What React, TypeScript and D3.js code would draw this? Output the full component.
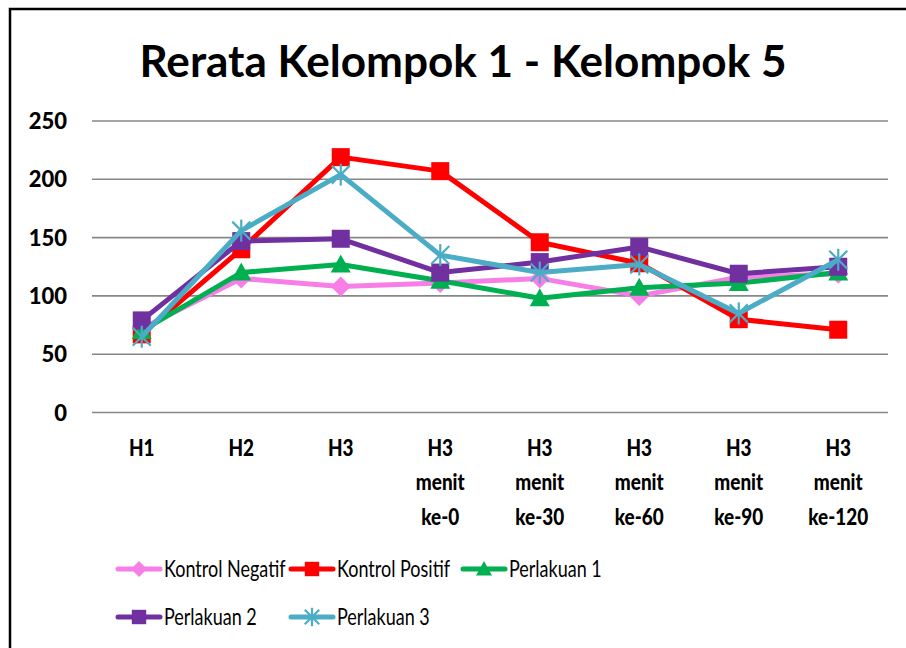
import React from 'react';
import * as d3 from 'd3';

const W = 906;
const H = 648;

const categories = ['H1', 'H2', 'H3', 'H3 menit ke-0', 'H3 menit ke-30', 'H3 menit ke-60', 'H3 menit ke-90', 'H3 menit ke-120'];
const yTicks = [0, 50, 100, 150, 200, 250];

const kontrolNegatif = [72, 115, 108, 111, 115, 100, 116, 119];
const kontrolPositif = [67, 140, 219, 207, 146, 128, 80, 71];
const perlakuan1 = [70, 120, 127, 113, 98, 107, 111, 120];
const perlakuan2 = [79, 147, 149, 120, 129, 142, 119, 125];
const perlakuan3 = [65, 156, 204, 135, 120, 127, 85, 131];

const series = [
  { name: 'Kontrol Negatif', values: kontrolNegatif, color: '#F67EE6', marker: 'diamond' },
  { name: 'Kontrol Positif', values: kontrolPositif, color: '#FF0000', marker: 'square' },
  { name: 'Perlakuan 1', values: perlakuan1, color: '#00B050', marker: 'triangle' },
  { name: 'Perlakuan 2', values: perlakuan2, color: '#7030A0', marker: 'square' },
  { name: 'Perlakuan 3', values: perlakuan3, color: '#4BACC6', marker: 'star' },
];

const FONT = 'Lato, "Open Sans", sans-serif';

const Marker = ({ type, x, y, color, s = 1 }: { type: string; x: number; y: number; color: string; s?: number }) => {
  if (type === 'square') {
    return <rect x={x - 9 * s} y={y - 9 * s} width={18 * s} height={18 * s} fill={color} />;
  }
  if (type === 'diamond') {
    const r = 10 * s;
    return <path d={`M${x},${y - r}L${x + r},${y}L${x},${y + r}L${x - r},${y}Z`} fill={color} />;
  }
  if (type === 'triangle') {
    const r = 10 * s;
    return <path d={`M${x},${y - r}L${x + r},${y + r * 0.8}L${x - r},${y + r * 0.8}Z`} fill={color} />;
  }
  // star (asterisk)
  const r = 9 * s;
  return (
    <g stroke={color} strokeWidth={2.2}>
      <line x1={x - r} y1={y - r} x2={x + r} y2={y + r} />
      <line x1={x - r} y1={y + r} x2={x + r} y2={y - r} />
      <line x1={x} y1={y - r - 2} x2={x} y2={y + r + 2} />
    </g>
  );
};

const App = () => {
  const x = d3.scaleBand<string>().domain(categories).range([92, 888]);
  const y = d3.scaleLinear().domain([0, 250]).range([412.5, 121]);
  const cx = (c: string) => (x(c) as number) + x.bandwidth() / 2;

  const line = d3
    .line<number>()
    .x((_, i) => cx(categories[i]))
    .y((d) => y(d));

  const legendPos = [
    { lx: 118, ly: 569 },
    { lx: 291, ly: 569 },
    { lx: 463, ly: 569 },
    { lx: 118, ly: 617 },
    { lx: 291, ly: 617 },
  ];

  return (
    <svg width={W} height={H} style={{ position: 'absolute', left: 0, top: 0, background: '#fff' }} fontFamily={FONT}>
      <rect x={10} y={9} width={W + 20} height={H + 20} fill="#fff" stroke="#000" strokeWidth={2.5} />

      <text x={463} y={77} textAnchor="middle" fontSize={44} fontWeight="bold" textLength={647} lengthAdjust="spacingAndGlyphs">
        Rerata Kelompok 1 - Kelompok 5
      </text>

      {/* gridlines + y labels */}
      {yTicks.map((t) => (
        <g key={t}>
          <line x1={92} x2={888} y1={y(t)} y2={y(t)} stroke="#878787" strokeWidth={1.6} />
          <text x={67} y={y(t) + 8} textAnchor="end" fontSize={22} fontWeight="900">
            {t}
          </text>
        </g>
      ))}

      {/* x labels */}
      {categories.map((c) => {
        const parts = c.split(' ');
        const lines = parts.length > 1 ? [parts[0], parts[1], parts[2]] : [c];
        return (
          <g key={c} transform={`translate(${cx(c)},0) scale(0.86,1)`}>
            <text x={0} textAnchor="middle" fontSize={22} fontWeight="900">
              {lines.map((l, i) => (
                <tspan key={i} x={0} y={456 + i * 34.5}>
                  {l}
                </tspan>
              ))}
            </text>
          </g>
        );
      })}

      {/* series */}
      {series.map((s) => (
        <g key={s.name}>
          <path d={line(s.values) || ''} fill="none" stroke={s.color} strokeWidth={5} strokeLinejoin="round" />
          {s.values.map((v, i) => (
            <Marker key={i} type={s.marker} x={cx(categories[i])} y={y(v)} color={s.color} />
          ))}
        </g>
      ))}

      {/* legend */}
      {series.map((s, i) => {
        const { lx, ly } = legendPos[i];
        return (
          <g key={s.name}>
            <line x1={lx} x2={lx + 42} y1={ly} y2={ly} stroke={s.color} strokeWidth={5} strokeLinecap="round" />
            <Marker type={s.marker} x={lx + 21} y={ly} color={s.color} s={0.8} />
            <g transform={`translate(${lx + 46},${ly + 8}) scale(0.8,1)`}>
              <text x={0} y={0} fontSize={22.5}>
                {s.name}
              </text>
            </g>
          </g>
        );
      })}
    </svg>
  );
};

export default App;
